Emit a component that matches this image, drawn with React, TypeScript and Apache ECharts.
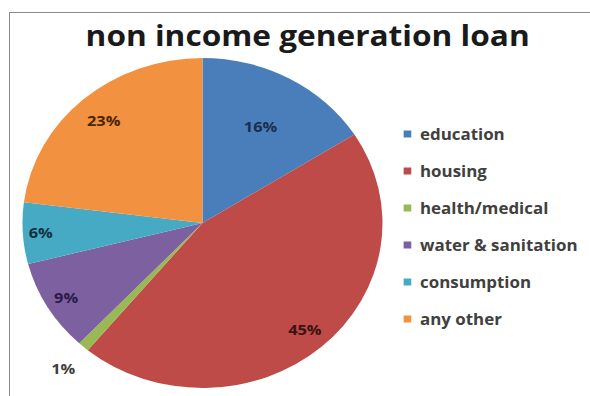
import React, { useEffect, useRef } from "react";
import * as echarts from "echarts";

const titleText = "non income generation loan";
const categories = ["education", "housing", "health/medical", "water & sanitation", "consumption", "any other"];
const shares = [16, 45, 1, 9, 6, 23];

// styles
const sliceColors = ["#4A7EBB", "#BE4B48", "#98B954", "#7D60A0", "#46AAC5", "#F2913F"];
const labelColors = ["#1C2E4F", "#3A1414", "#404040", "#2A1A48", "#12323F", "#4A2508"];
const labelRadius = [0.67, 0.86, 1.17, 0.88, 0.9, 0.83];

const STRETCH = 180 / 165;
const BASE_W = 590 / STRETCH;
const CX = 185.6;
const CY = 223;
const R = 165;

export default function App() {
  const ref = useRef<HTMLDivElement>(null);
  useEffect(() => {
    if (!ref.current) return;
    const chart = echarts.init(ref.current, undefined, { renderer: "svg" });
    const total = shares.reduce((a, b) => a + b, 0);
    const mids: number[] = [];
    let acc = 0;
    shares.forEach((v) => {
      mids.push(((acc + v / 2) / total) * Math.PI * 2);
      acc += v;
    });
    chart.setOption({
      animation: false,
      graphic: [
        {
          type: "text",
          x: 282,
          y: 20,
          style: {
            text: titleText,
            align: "center",
            verticalAlign: "top",
            fontFamily: "Open Sans",
            fontWeight: "bold",
            fontSize: 29,
            fill: "#1a1a1a",
          },
        },
      ],
      legend: {
        orient: "vertical",
        left: 370,
        top: 126,
        padding: 0,
        itemWidth: 7,
        itemHeight: 7,
        itemGap: 21,
        icon: "rect",
        data: categories,
        textStyle: {
          fontFamily: "Open Sans",
          fontWeight: "bold",
          fontSize: 15.5,
          lineHeight: 16,
          color: "#404040",
          padding: [0, 0, 0, 3],
        },
      },
      series: [
        {
          type: "pie",
          center: [CX, CY],
          radius: R,
          startAngle: 90,
          clockwise: true,
          silent: true,
          avoidLabelOverlap: false,
          data: categories.map((name, i) => ({
            name,
            value: shares[i],
            itemStyle: { color: sliceColors[i] },
            label: { color: labelColors[i] },
          })),
          label: {
            show: true,
            position: "inside",
            formatter: "{c}%",
            fontFamily: "Open Sans",
            fontWeight: "bold",
            fontSize: 15,
          },
          labelLine: { show: false },
          labelLayout: (p: any) => {
            const i = p.dataIndex;
            const a = mids[i];
            const rr = R * labelRadius[i];
            return { x: CX + rr * Math.sin(a), y: CY - rr * Math.cos(a), align: "center", verticalAlign: "middle" };
          },
        },
      ],
    });
    return () => chart.dispose();
  }, []);
  return (
    <div style={{ position: "absolute", left: 0, top: 0, width: 590, height: 396, overflow: "hidden", background: "#fff" }}>
      <div
        style={{
          position: "absolute",
          left: 9,
          top: 12,
          width: 590,
          height: 400,
          borderLeft: "1px solid #8a8a8a",
          borderTop: "1px solid #8a8a8a",
        }}
      />
      <div
        ref={ref}
        style={{
          position: "absolute",
          left: 0,
          top: 0,
          width: BASE_W,
          height: 396,
          transform: `scaleX(${STRETCH})`,
          transformOrigin: "0 0",
        }}
      />
    </div>
  );
}
